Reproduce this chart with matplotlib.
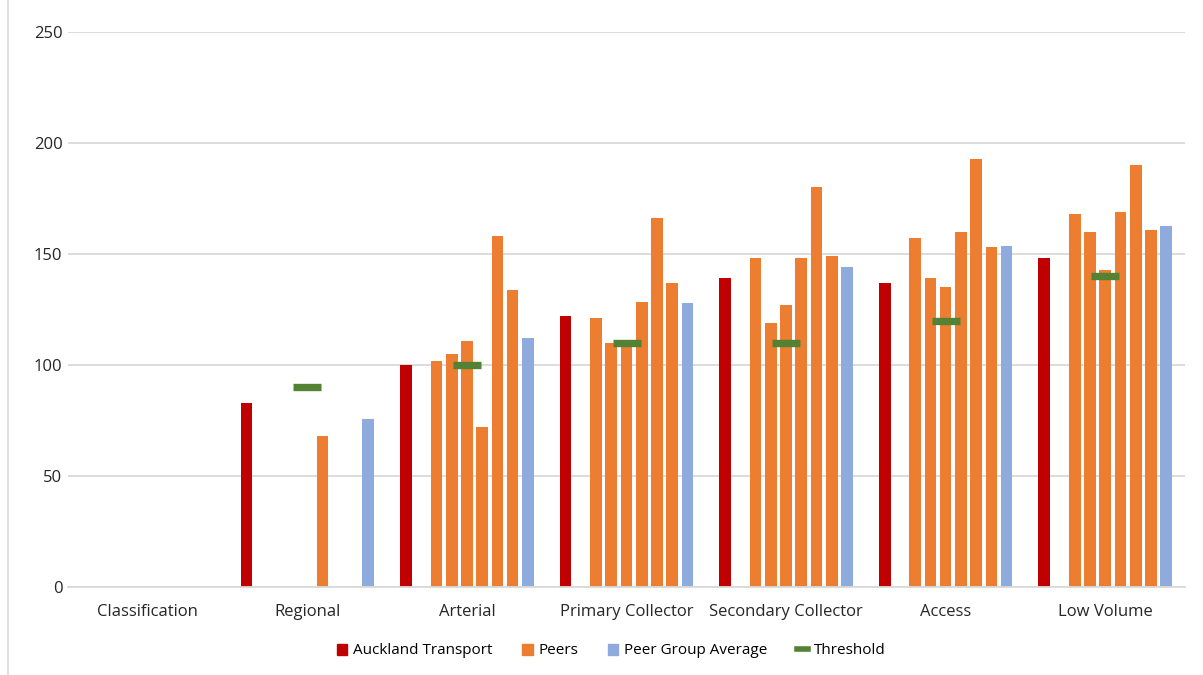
import numpy as np
import matplotlib
matplotlib.use("Agg")
import matplotlib.pyplot as plt
from matplotlib.lines import Line2D
from matplotlib.patches import Patch

plt.rcParams['font.family'] = ['Open Sans', 'DejaVu Sans']

categories = ["Classification", "Regional", "Arterial", "Primary Collector",
              "Secondary Collector", "Access", "Low Volume"]

auckland = [np.nan, 83, 100, 122, 139, 137, 148]

# six peer organisations per classification (nan = no data)
peer1 = [np.nan, np.nan, 102, 121, 148, 157, 168]
peer2 = [np.nan, np.nan, 105, 110, 119, 139, 160]
peer3 = [np.nan, np.nan, 111, 111, 127, 135, 143]
peer4 = [np.nan, 68, 72, 128.5, 148, 160, 169]
peer5 = [np.nan, np.nan, 158, 166, 180, 193, 190]
peer6 = [np.nan, np.nan, 134, 137, 149, 153, 161]

peer_avg = [np.nan, 75.5, 112, 128, 144, 153.5, 162.5]
threshold = [np.nan, 90, 100, 110, 110, 120, 140]

C_AT = "#C00000"
C_PEER = "#ED7D31"
C_AVG = "#8FAADC"
C_THR = "#548235"

W, H = 1203, 675
fig = plt.figure(figsize=(W / 100, H / 100), dpi=100)
ax = fig.add_axes([68 / W, 1 - 587 / H, (1185 - 68) / W, (587 - 32) / H])

x = np.arange(len(categories))
pitch = 0.0955
bw = 0.073

# slot layout inside each group: AT, blank, six peers, average
series = [(auckland, C_AT, 0)]
for k, p in enumerate([peer1, peer2, peer3, peer4, peer5, peer6]):
    series.append((p, C_PEER, 2 + k))
series.append((peer_avg, C_AVG, 8))

for vals, col, slot in series:
    ax.bar(x + (slot - 4) * pitch, vals, width=bw, color=col, zorder=2)

ax.plot(x, threshold, linestyle="none", marker="_", markersize=20.5,
        markeredgewidth=5.3, color=C_THR, zorder=3)

ax.set_xlim(-0.5, len(categories) - 0.5)
ax.set_ylim(0, 250)
ax.set_yticks([0, 50, 100, 150, 200, 250])
ax.set_xticks(x)
ax.set_xticklabels(categories)
ax.yaxis.grid(True, color="#D9D9D9", linewidth=1.3, zorder=0)
ax.set_axisbelow(True)
for s in ["top", "right", "left"]:
    ax.spines[s].set_visible(False)
ax.spines["bottom"].set_color("#D9D9D9")
ax.spines["bottom"].set_linewidth(1.3)
ax.tick_params(axis="both", length=0, labelsize=12, colors="#404040",
               labelcolor="#262626")
ax.tick_params(axis="x", pad=12)
ax.tick_params(axis="y", pad=4)

handles = [Patch(color=C_AT, label="Auckland Transport"),
           Patch(color=C_PEER, label="Peers"),
           Patch(color=C_AVG, label="Peer Group Average"),
           Line2D([0], [0], color=C_THR, linewidth=4, label="Threshold")]
fig.legend(handles=handles, loc="center", bbox_to_anchor=(611 / W, 1 - 651 / H),
           ncol=4, frameon=False, fontsize=11, handlelength=0.7,
           handleheight=0.7, handletextpad=0.4, columnspacing=1.9)

fig.add_artist(Line2D([8 / W, 8 / W], [0, 1], color="#D9D9D9", linewidth=1.2))

fig.savefig("out.png", dpi=100, facecolor="white")
